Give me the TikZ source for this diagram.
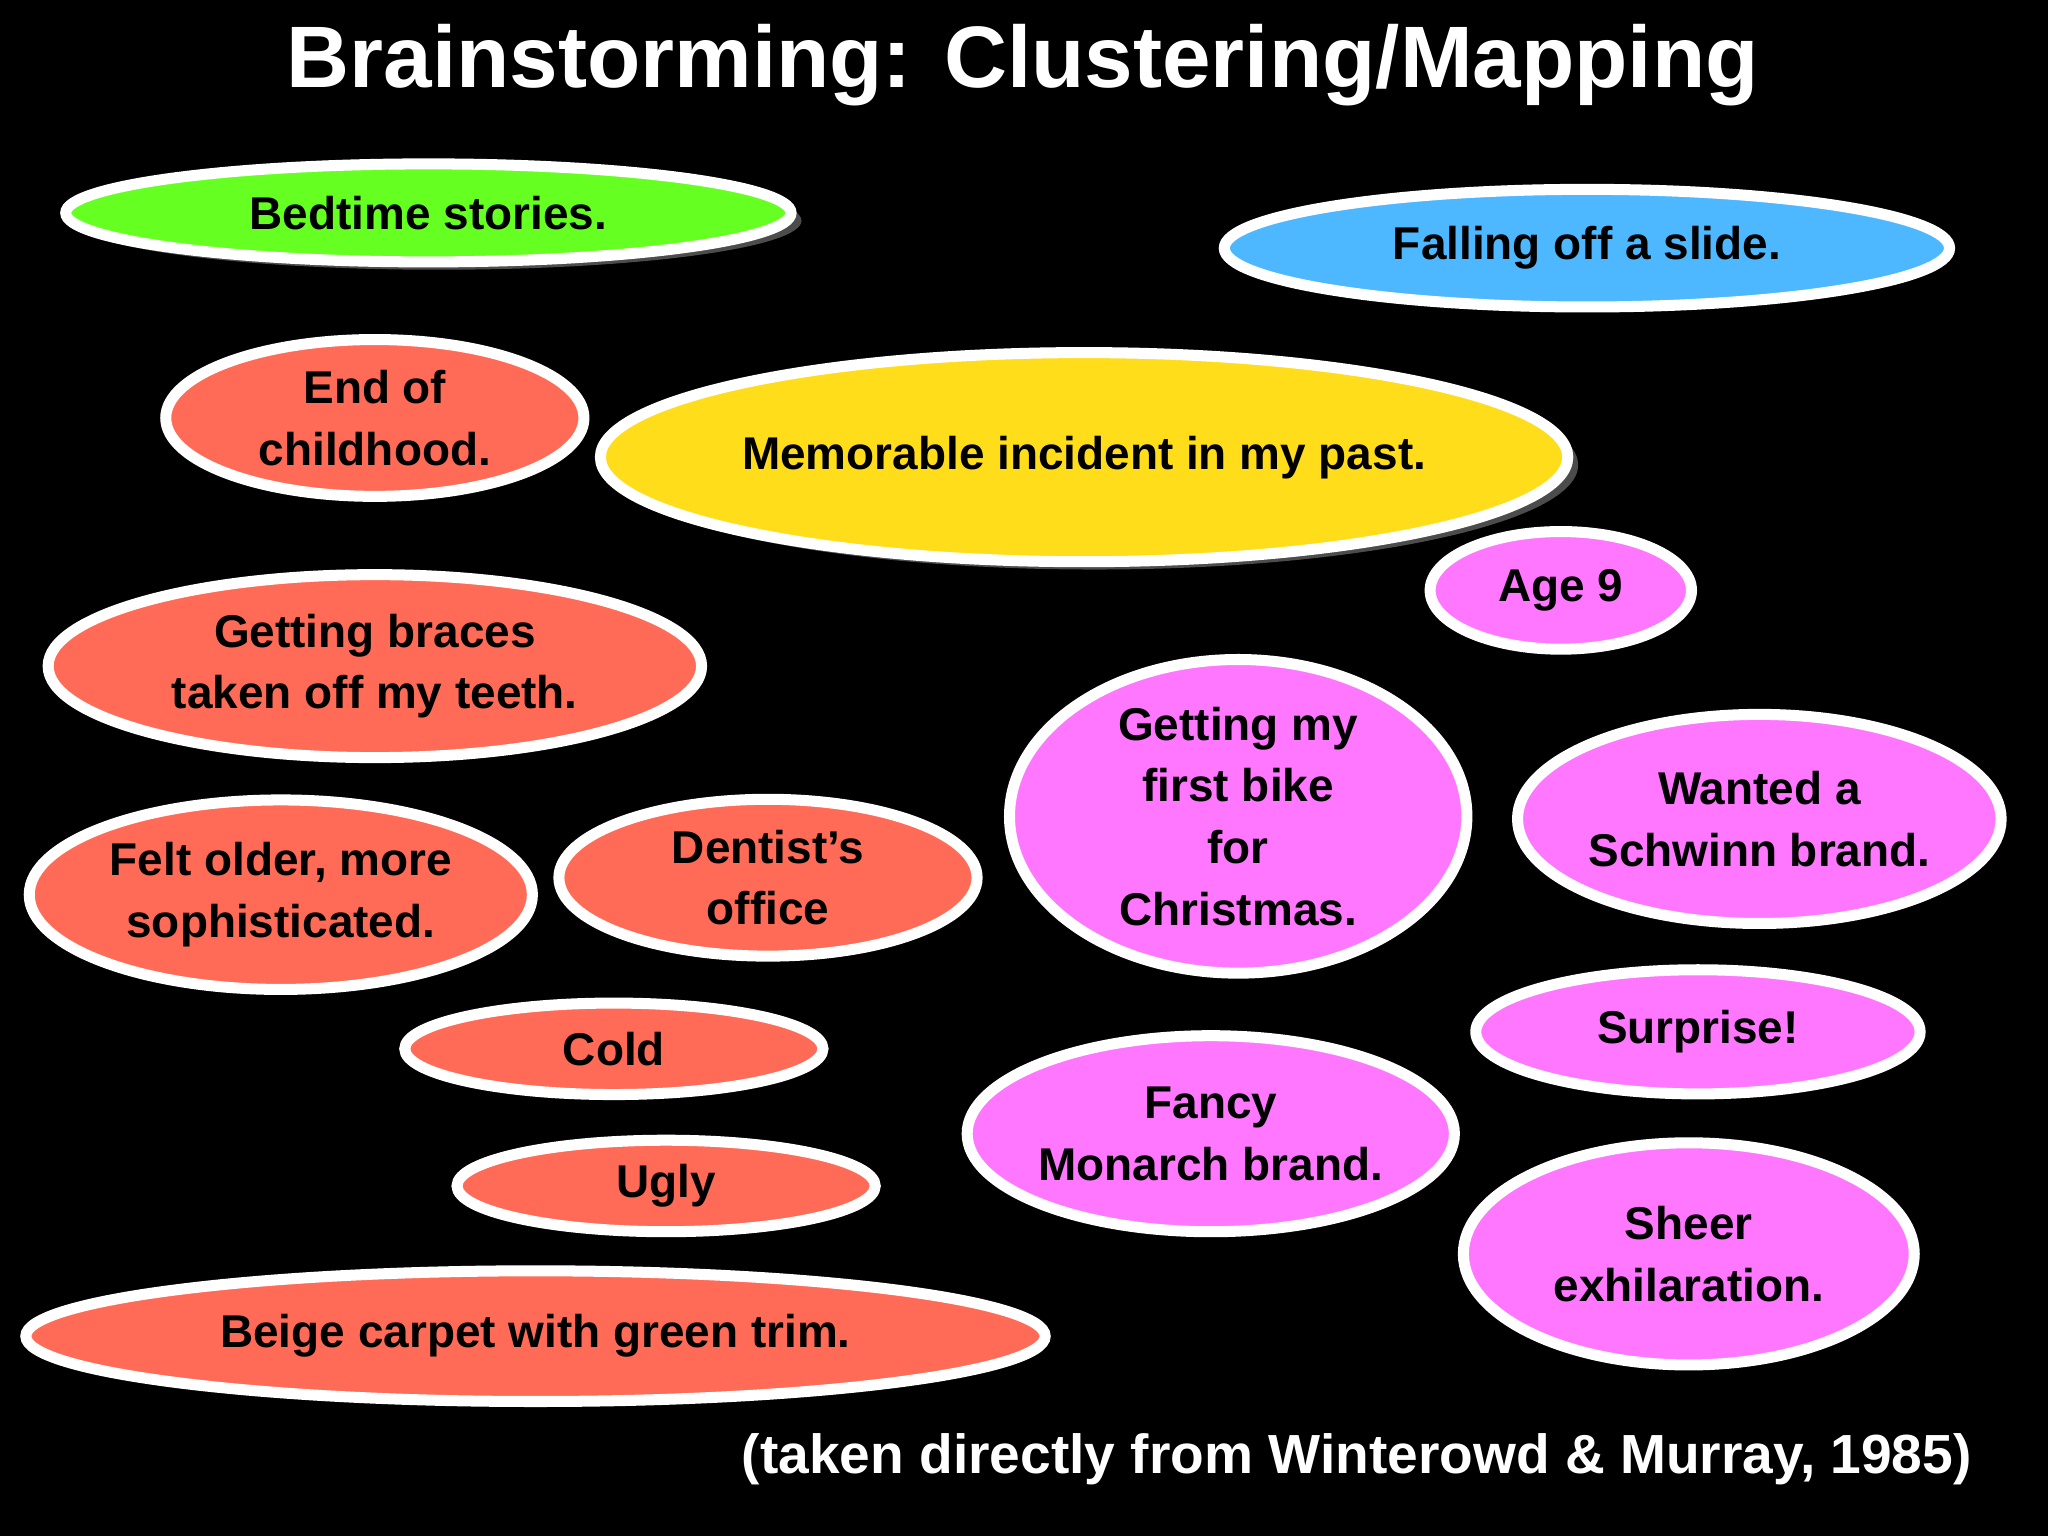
\documentclass[tikz,border=0pt]{standalone}
\usepackage{fontspec}
\setmainfont{Liberation Sans}
\usetikzlibrary{shapes.geometric,positioning,shadows}
\definecolor{bedgreen}{HTML}{66FF22}
\definecolor{slideblue}{HTML}{4DB8FF}
\definecolor{pastyellow}{HTML}{FFDD1A}
\definecolor{bracesred}{HTML}{FF6B57}
\definecolor{bikepink}{HTML}{FF77FF}
\pgfdeclarelayer{background}
\pgfsetlayers{background,main}
\tikzset{
    bubble/.style={ellipse, draw=white, line width=2.4pt, inner sep=0pt, align=center,
        font=\fontsize{10}{13.4}\selectfont\bfseries, text=black},
    link/.style={draw=white, line width=3pt},
    shadowed/.style={drop shadow={shadow xshift=0.8mm, shadow yshift=-0.6mm, fill=gray!60!black, opacity=1}},
    oval/.style 2 args={minimum width=#1cm, minimum height=#2cm},
}
\begin{document}
\begin{tikzpicture}[x=0.01cm, y=-0.01cm]
    \fill[black] (0,0) rectangle (1568,1176);
    \useasboundingbox (0,0) rectangle (1568,1176);
    % title
    \node[text=white, font=\fontsize{19}{22}\selectfont\bfseries] (title) at (783,50) {Brainstorming: Clustering/Mapping};
    % centre
    \node[bubble, shadowed, fill=pastyellow, oval={6.6}{1.6}] (past) at (830,350) {Memorable incident in my past.};
    \node[bubble, shadowed, fill=bedgreen, oval={5.55}{0.75}] (bed) at (328,163) {Bedtime stories.};
    \node[bubble, fill=slideblue, oval={5.55}{0.9}] (slide) at (1215,190) {Falling off a slide.};
    % braces cluster
    \node[bubble, fill=bracesred, oval={3.2}{1.2}] (end) at (287,320) {End of\\childhood.};
    \node[bubble, fill=bracesred, oval={5.0}{1.4}] (braces) at (287,510) {Getting braces\\taken off my teeth.};
    \node[bubble, fill=bracesred, oval={3.85}{1.45}] (older) at (215,685) {Felt older, more\\sophisticated.};
    \node[bubble, fill=bracesred, oval={3.2}{1.2}] (dentist) at (588,672) {Dentist's\\office};
    \node[bubble, fill=bracesred, oval={3.2}{0.7}] (cold) at (470,803) {Cold};
    \node[bubble, fill=bracesred, oval={3.2}{0.7}] (ugly) at (510,908) {Ugly};
    \node[bubble, fill=bracesred, oval={7.8}{1.0}] (carpet) at (410,1023) {Beige carpet with green trim.};
    % bike cluster
    \node[bubble, fill=bikepink, oval={3.5}{2.4}] (bike) at (948,625) {Getting my\\first bike\\for\\Christmas.};
    \node[bubble, fill=bikepink, oval={2.0}{0.9}] (age) at (1195,452) {Age 9};
    \node[bubble, fill=bikepink, oval={3.45}{1.6}] (schwinn) at (1347,627) {Wanted a\\Schwinn brand.};
    \node[bubble, fill=bikepink, oval={3.4}{0.95}] (surprise) at (1300,790) {Surprise!};
    \node[bubble, fill=bikepink, oval={3.7}{1.5}] (monarch) at (927,868) {Fancy\\Monarch brand.};
    \node[bubble, fill=bikepink, oval={3.45}{1.7}] (sheer) at (1293,960) {Sheer\\exhilaration.};
    % source
    \node[anchor=east, text=white, font=\fontsize{12}{14}\selectfont\bfseries] (source) at (1522,1117) {(taken directly from Winterowd \& Murray, 1985)};

    \begin{pgfonlayer}{background}
        \draw[link] (bed) -- (past);
        \draw[link] (slide) -- (past);
        \draw[link] (past) -- (braces);
        \draw[link] (past) -- (bike);
        \draw[link] (end) -- (braces);
        \draw[link] (braces) -- (older);
        \draw[link] (braces) -- (dentist);
        \draw[link] (dentist) -- (cold);
        \draw[link] (cold) -- (ugly);
        \draw[link] (ugly) -- (carpet);
        \draw[link] (bike) -- (age);
        \draw[link] (bike) -- (schwinn);
        \draw[link] (bike) -- (surprise);
        \draw[link] (bike) -- (monarch);
        \draw[link] (surprise) -- (sheer);
    \end{pgfonlayer}
\end{tikzpicture}
\end{document}
